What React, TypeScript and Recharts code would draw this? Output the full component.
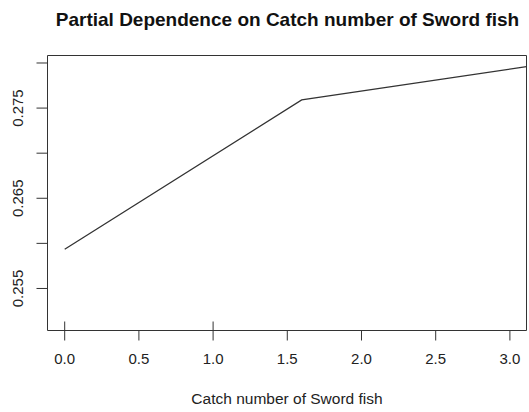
import React from 'react';
import { LineChart, Line, XAxis, YAxis, ReferenceArea } from 'recharts';

// values
const catchNumber = [0, 1.597, 3.112];
const dependence = [0.25935, 0.2759, 0.27959];
const xTicks = [0, 0.5, 1, 1.5, 2, 2.5, 3];
const yTicks = [0.255, 0.26, 0.265, 0.27, 0.275, 0.28];
const yLabelled = [0.255, 0.265, 0.275];
const rugX = [0, 1];
const xDomain: [number, number] = [-0.1159, 3.1119];
const yDomain: [number, number] = [0.25034, 0.28083];

const data = catchNumber.map((x, i) => ({ x, y: dependence[i] }));

const FONT = '"Liberation Sans", Arial, sans-serif';
const INK = '#333';
const X_TICK = 10;
const X_MARGIN = 2.5;
const Y_TICK = 11;
const Y_MARGIN = 13;

const XTick = (props: any) => {
  const { x, y, payload } = props;
  const axisY = y - X_TICK - X_MARGIN;
  return (
    <g>
      {rugX.includes(payload.value) && (
        <line x1={x} x2={x} y1={axisY - 9} y2={axisY} stroke={INK} strokeWidth={1} />
      )}
      <text x={x} y={axisY + 22.5} dy="0.71em" textAnchor="middle" fontSize={15} fill="#222" fontFamily={FONT}>
        {payload.value.toFixed(1)}
      </text>
    </g>
  );
};

const YTick = (props: any) => {
  const { x, y, payload } = props;
  if (!yLabelled.some((v) => Math.abs(v - payload.value) < 1e-9)) return <g />;
  return (
    <text
      x={x}
      y={y}
      transform={`rotate(-90, ${x}, ${y})`}
      textAnchor="middle"
      fontSize={15}
      fill="#222"
      fontFamily={FONT}
    >
      {payload.value.toFixed(3)}
    </text>
  );
};

export default function App() {
  return (
    <div style={{ position: 'absolute', left: 0, top: 0, width: 529, height: 412, background: '#fff', fontFamily: FONT }}>
      <div
        style={{
          position: 'absolute',
          left: 287.5,
          top: 10,
          transform: 'translateX(-50%)',
          whiteSpace: 'nowrap',
          fontSize: 19,
          lineHeight: '19px',
          fontWeight: 'bold',
          color: '#111',
        }}
      >
        Partial Dependence on Catch number of Sword fish
      </div>
      <LineChart width={529} height={412} data={data} margin={{ top: 55.5, right: 2.5, left: 0, bottom: 0 }}>
        <XAxis
          dataKey="x"
          type="number"
          domain={xDomain}
          ticks={xTicks}
          allowDataOverflow
          height={81.5}
          axisLine={false}
          tickLine={{ stroke: INK }}
          tickSize={X_TICK}
          tickMargin={X_MARGIN}
          tick={<XTick />}
          interval={0}
          label={{ value: 'Catch number of Sword fish', position: 'insideBottom', offset: 8.5, fontSize: 15.5, fill: '#222', fontFamily: FONT }}
        />
        <YAxis
          type="number"
          domain={yDomain}
          ticks={yTicks}
          allowDataOverflow
          width={47.5}
          axisLine={false}
          tickLine={{ stroke: INK }}
          tickSize={Y_TICK}
          tickMargin={Y_MARGIN}
          tick={<YTick />}
          interval={0}
        />
        <ReferenceArea
          x1={xDomain[0]}
          x2={xDomain[1]}
          y1={yDomain[0]}
          y2={yDomain[1]}
          fill="none"
          fillOpacity={0}
          stroke={INK}
          strokeWidth={1}
          ifOverflow="visible"
        />
        <Line
          type="linear"
          dataKey="y"
          stroke={INK}
          strokeWidth={1.3}
          dot={false}
          activeDot={false}
          isAnimationActive={false}
        />
      </LineChart>
    </div>
  );
}
